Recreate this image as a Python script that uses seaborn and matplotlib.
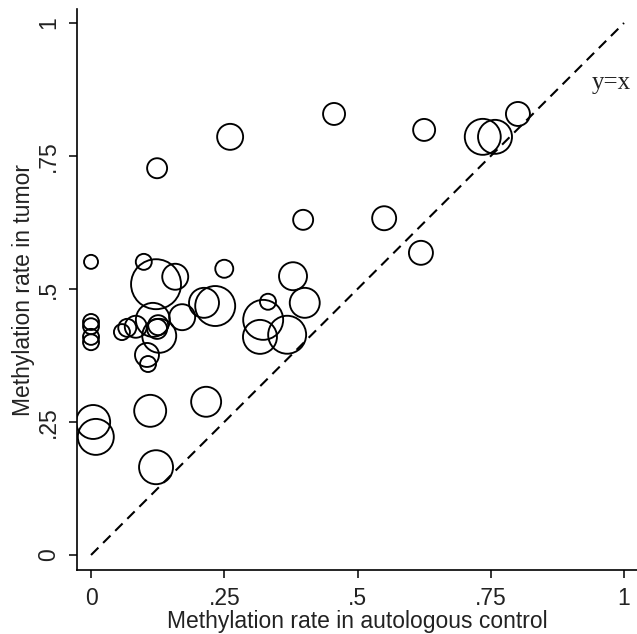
import matplotlib
matplotlib.use("Agg")
import matplotlib.pyplot as plt
import seaborn as sns
import pandas as pd

# Methylation rate in autologous control (x)
control = [0.000, 0.099, 0.122, 0.158, 0.250, 0.124, 0.261, 0.456, 0.625, 0.735,
           0.758, 0.801, 0.398, 0.550, 0.619, 0.379, 0.401, 0.332, 0.323, 0.317,
           0.368, 0.212, 0.233, 0.171, 0.116, 0.128, 0.124, 0.126, 0.084, 0.068,
           0.058, 0.105, 0.107, 0.000, 0.000, 0.000, 0.000, 0.004, 0.009, 0.111,
           0.216, 0.122]
# Methylation rate in tumor (y)
tumor = [0.551, 0.551, 0.509, 0.523, 0.538, 0.727, 0.786, 0.829, 0.799, 0.786,
         0.786, 0.829, 0.630, 0.633, 0.568, 0.524, 0.474, 0.476, 0.442, 0.410,
         0.414, 0.474, 0.468, 0.447, 0.442, 0.412, 0.425, 0.432, 0.429, 0.427,
         0.419, 0.376, 0.359, 0.438, 0.430, 0.410, 0.400, 0.250, 0.222, 0.271,
         0.288, 0.165]
# Weight (marker area proportional to it)
weight = [49, 64, 625, 169, 81, 100, 169, 121, 121, 324,
          289, 144, 100, 144, 144, 196, 225, 64, 400, 289,
          361, 225, 400, 169, 289, 289, 100, 100, 121, 81,
          64, 144, 64, 64, 64, 64, 64, 289, 324, 256,
          225, 289]

diag = [0.0, 1.0]
xticks = [0, 0.25, 0.5, 0.75, 1]
xticklabels = ["0", ".25", ".5", ".75", "1"]
yticks = [0, 0.25, 0.5, 0.75, 1]
yticklabels = ["0", ".25", ".5", ".75", "1"]

sns.set_theme(style="ticks")
plt.rcParams['font.family'] = ['Liberation Sans', 'DejaVu Sans']

fig = plt.figure(figsize=(6.37, 6.34), dpi=100)
ax = fig.add_axes([77 / 637, 64 / 634, 560 / 637, 561 / 634])

df = pd.DataFrame(dict(control=control, tumor=tumor, weight=weight))
wmin, wmax = min(weight), max(weight)
k = 2.07
sns.scatterplot(data=df, x="control", y="tumor", size="weight",
                sizes=(k * wmin, k * wmax), size_norm=(wmin, wmax),
                color="black", facecolor="none", edgecolor="black",
                linewidth=1.35, legend=False, ax=ax, zorder=3)

sns.lineplot(x=diag, y=diag, color="black", linewidth=1.5,
             dashes=False, ax=ax, zorder=2)
ax.lines[-1].set_dashes((5, 3.2))

ax.text(0.976, 0.887, "y=x", family=["Liberation Serif", "DejaVu Serif"],
        fontsize=18, ha="center", va="center", color="#222222")

ax.set_xlim(-0.0263, 1.0244)
ax.set_ylim(-0.0282, 1.0263)
ax.set_xticks(xticks)
ax.set_xticklabels(xticklabels)
ax.set_yticks(yticks)
ax.set_yticklabels(yticklabels, rotation=90, va="center")
ax.tick_params(axis="both", direction="out", length=6, width=1.1,
               color="black", labelsize=16.5, labelcolor="#222222", pad=6)

for side in ["top", "right"]:
    ax.spines[side].set_visible(False)
for side in ["left", "bottom"]:
    ax.spines[side].set_color("black")
    ax.spines[side].set_linewidth(1.2)

ax.set_xlabel("Methylation rate in autologous control", fontsize=16.5,
              color="#222222", labelpad=0)
ax.set_ylabel("Methylation rate in tumor", fontsize=16.5,
              color="#222222", labelpad=2)

fig.savefig("out.png", dpi=100)
